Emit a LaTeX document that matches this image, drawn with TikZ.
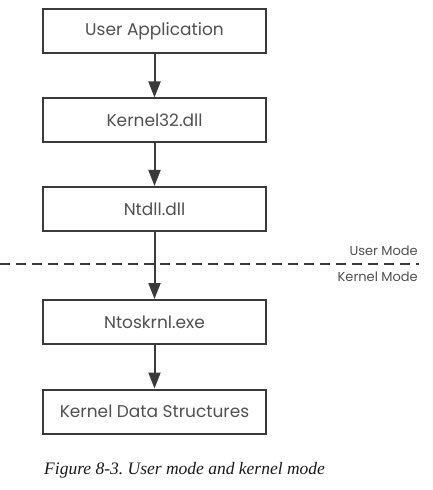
\documentclass[tikz,border=0pt]{standalone}
\usepackage{fontspec}
\setmainfont{Liberation Serif}
\newfontfamily\boxfont{Poppins}
\usepackage{tikz}
\usetikzlibrary{arrows.meta}
\usetikzlibrary{positioning}
\definecolor{edgegray}{HTML}{3A3A3A}
\definecolor{textgray}{HTML}{505050}
\frenchspacing
\tikzset{
    >={Triangle[length=16bp,width=12bp]},
    layer/.style={draw=edgegray, line width=2bp, minimum width=223bp, minimum height=44bp,
        inner sep=0pt, text=textgray, font=\boxfont\fontsize{17bp}{20bp}\selectfont},
    call/.style={->, draw=edgegray, line width=2bp},
    modeline/.style={draw=edgegray, line width=2bp, dash pattern=on 10bp off 6bp},
    modelabel/.style={anchor=east, inner sep=0pt, text=textgray, font=\boxfont\fontsize{13bp}{15bp}\selectfont},
}
\begin{document}
\begin{tikzpicture}[x=1bp, y=-1bp]
	\useasboundingbox (0,0) rectangle (432,490);
	% the call chain
	\node[layer] (app) at (154.5,31) {User Application};
	\node[layer] (k32) at (154.5,120.5) {Kernel32.dll};
	\node[layer] (ntdll) at (154.5,209) {Ntdll.dll};
	\node[layer] (ntos) at (154.5,322) {Ntoskrnl.exe};
	\node[layer] (kds) at (154.5,411.5) {Kernel Data Structures};
	\draw[call] (app)--(k32);
	\draw[call] (k32)--(ntdll);
	\draw[call] (ntdll)--(ntos);
	\draw[call] (ntos)--(kds);
	% boundary between the modes
	\coordinate (bl) at (0,264);
	\coordinate (br) at (419,264);
	\draw[modeline] (bl)--(br);
	\node[modelabel] (um) at (418,251) {User Mode};
	\node[modelabel] (km) at (418,277) {Kernel Mode};
	\node[anchor=base west, inner sep=0pt, text=black!90] (cap) at (44,474)
		{\fontsize{17.5bp}{21bp}\selectfont\itshape Figure 8-3. User mode and kernel mode};
\end{tikzpicture}
\end{document}
